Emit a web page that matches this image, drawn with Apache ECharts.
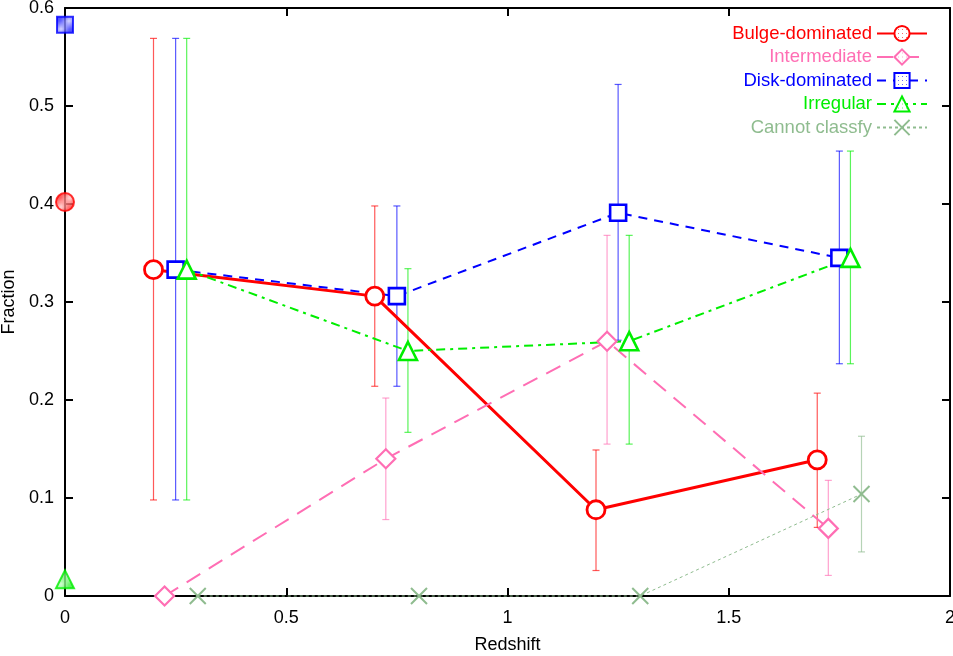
<!DOCTYPE html>
<html><head><meta charset="utf-8">
<script src="https://cdn.jsdelivr.net/npm/echarts@6/dist/echarts.min.js"></script>
<style>html,body{margin:0;padding:0;background:#fff}#c{width:953px;height:656px}</style>
</head><body><div id="c"></div>
<script>
// ---- data ----
const xTicks = [0, 0.5, 1, 1.5, 2];
const yTicks = [0, 0.1, 0.2, 0.3, 0.4, 0.5, 0.6];

const bulgeX  = [0.2, 0.7, 1.2, 1.7];
const bulgeY  = [0.333, 0.306, 0.088, 0.139];
const bulgeLo = [0.098, 0.214, 0.026, 0.070];
const bulgeHi = [0.569, 0.398, 0.149, 0.207];

const interX  = [0.225, 0.725, 1.225, 1.725];
const interY  = [0, 0.140, 0.260, 0.069];
const interLo = [null, 0.078, 0.155, 0.021];
const interHi = [null, 0.202, 0.368, 0.118];

const diskX  = [0.25, 0.75, 1.25, 1.75];
const diskY  = [0.333, 0.306, 0.391, 0.345];
const diskLo = [0.098, 0.214, 0.261, 0.237];
const diskHi = [0.569, 0.398, 0.522, 0.454];

const irrX  = [0.275, 0.775, 1.275, 1.775];
const irrY  = [0.333, 0.250, 0.260, 0.345];
const irrLo = [0.098, 0.167, 0.155, 0.237];
const irrHi = [0.569, 0.334, 0.368, 0.454];

const unclX  = [0.3, 0.8, 1.3, 1.8];
const unclY  = [0, 0, 0, 0.104];
const unclLo = [null, null, null, 0.045];
const unclHi = [null, null, null, 0.163];

// local (z = 0) values
const localBulge = [0, 0.402];
const localDisk  = [0, 0.583];
const localIrr   = [0, 0.017];

const names = ['Bulge-dominated', 'Intermediate', 'Disk-dominated', 'Irregular', 'Cannot classfy'];
const colors = ['#ff0000', '#ff6eb4', '#0000ff', '#00ee00', '#8fbc8f'];

// ---- build ----
const font = 'Liberation Sans, Arial, Helvetica, sans-serif';
function pts(xs, ys) { return xs.map((x, i) => [x, ys[i]]); }
function dotPattern(color) {
  const c = document.createElement('canvas'); c.width = 4; c.height = 4;
  const g = c.getContext('2d');
  g.fillStyle = '#fff'; g.fillRect(0, 0, 4, 4);
  g.globalAlpha = 0.6; g.fillStyle = color; g.fillRect(1, 1, 1, 1);
  return { image: c, repeat: 'repeat' };
}
function hatchPattern(color) {
  const c = document.createElement('canvas'); c.width = 4; c.height = 4;
  const g = c.getContext('2d');
  g.fillStyle = color; g.fillRect(0, 0, 4, 4);
  g.strokeStyle = 'rgba(255,255,255,0.85)'; g.lineWidth = 1.1;
  g.beginPath();
  g.moveTo(-1, 5); g.lineTo(5, -1);
  g.moveTo(-1, 1); g.lineTo(1, -1);
  g.moveTo(3, 5); g.lineTo(5, 3);
  g.stroke();
  return { image: c, repeat: 'repeat' };
}
function errData(xs, lo, hi) {
  const out = [];
  xs.forEach((x, i) => { if (lo[i] != null) out.push([x, lo[i], hi[i]]); });
  return out;
}
function errSeries(xs, lo, hi, color) {
  return {
    type: 'custom', z: 1, silent: true, clip: false,
    data: errData(xs, lo, hi),
    encode: { x: 0, y: [1, 2] },
    renderItem: function (params, api) {
      const x = api.value(0);
      const a = api.coord([x, api.value(1)]);
      const b = api.coord([x, api.value(2)]);
      const w = 3.5;
      const st = { stroke: color, lineWidth: 1.2, opacity: 0.65 };
      return {
        type: 'group', children: [
          { type: 'line', shape: { x1: a[0], y1: a[1], x2: b[0], y2: b[1] }, style: st },
          { type: 'line', shape: { x1: a[0] - w, y1: a[1], x2: a[0] + w, y2: a[1] }, style: st },
          { type: 'line', shape: { x1: b[0] - w, y1: b[1], x2: b[0] + w, y2: b[1] }, style: st }
        ]
      };
    }
  };
}
const xPath = 'path://M0,0L10,10M10,0L0,10';
const lineDefs = [
  { x: bulgeX, y: bulgeY, sym: 'circle', size: 18, lw: 3, bw: 2.8, type: 'solid' },
  { x: interX, y: interY, sym: 'diamond', size: 19, lw: 2, bw: 2.2, type: [16, 10] },
  { x: diskX, y: diskY, sym: 'rect', size: 16, lw: 2, bw: 2.6, type: [9, 7] },
  { x: irrX, y: irrY, sym: 'triangle', size: 18, lw: 2, bw: 2.6, type: [9, 5, 3, 5] },
  { x: unclX, y: unclY, sym: xPath, size: 16, lw: 1, bw: 2, type: [3, 3] }
];
const series = [];
[[bulgeX, bulgeLo, bulgeHi], [interX, interLo, interHi], [diskX, diskLo, diskHi], [irrX, irrLo, irrHi], [unclX, unclLo, unclHi]]
  .forEach((e, i) => series.push(errSeries(e[0], e[1], e[2], colors[i])));
lineDefs.forEach((d, i) => {
  series.push({
    name: names[i], type: 'line', z: 3, data: pts(d.x, d.y),
    symbol: d.sym, symbolSize: d.size, showAllSymbol: true, clip: false,
    lineStyle: { color: colors[i], width: d.lw, type: d.type },
    itemStyle: { color: i === 4 ? colors[i] : dotPattern(colors[i]), borderColor: colors[i], borderWidth: d.bw },
    emphasis: { disabled: true }
  });
});
[[localBulge, 'circle', 18, colors[0]], [localDisk, 'rect', 16, colors[2]], [localIrr, 'triangle', 18, colors[3]]]
  .forEach(l => series.push({
    type: 'scatter', z: 4, data: [l[0]], symbol: l[1], symbolSize: l[2], clip: false, silent: true,
    itemStyle: { color: hatchPattern(l[3]), borderColor: l[3], borderWidth: 2 }
  }));

const axisCommon = {
  axisLine: { show: true, onZero: false, lineStyle: { color: '#000', width: 2 } },
  axisTick: { inside: true, length: 8, lineStyle: { color: '#000', width: 2 } },
  splitLine: { show: false }
};
const chart = echarts.init(document.getElementById('c'), null, { renderer: 'canvas' });
chart.setOption({
  animation: false,
  backgroundColor: '#fff',
  textStyle: { fontFamily: font },
  grid: { left: 65, right: 3, top: 8, bottom: 60, containLabel: false, outerBoundsMode: 'none' },
  legend: {
    orient: 'vertical', right: 20, top: 19, align: 'right', itemGap: 4.5,
    itemWidth: 50, itemHeight: 19,
    data: names.map((n, i) => ({ name: n, textStyle: { color: colors[i] } })),
    textStyle: { fontSize: 18.5, fontFamily: font }
  },
  xAxis: [
    Object.assign({ type: 'value', min: 0, max: 2, interval: 0.5, name: 'Redshift', nameLocation: 'middle', nameGap: 40,
      nameTextStyle: { fontSize: 18, color: '#000', fontFamily: font },
      axisLabel: { fontSize: 18, color: '#000', margin: 13, formatter: v => String(v) } }, axisCommon),
    Object.assign({ type: 'value', position: 'top', min: 0, max: 2, interval: 0.5,
      axisLabel: { show: false } }, axisCommon)
  ],
  yAxis: [
    Object.assign({ type: 'value', min: 0, max: 0.6, interval: 0.1, name: 'Fraction', nameLocation: 'middle', nameGap: 43,
      nameTextStyle: { fontSize: 18, color: '#000', fontFamily: font },
      axisLabel: { fontSize: 18, color: '#000', margin: 11, formatter: v => String(+v.toFixed(1)) } }, axisCommon),
    Object.assign({ type: 'value', position: 'right', min: 0, max: 0.6, interval: 0.1,
      axisLabel: { show: false } }, axisCommon)
  ],
  series: series
});
</script></body></html>
